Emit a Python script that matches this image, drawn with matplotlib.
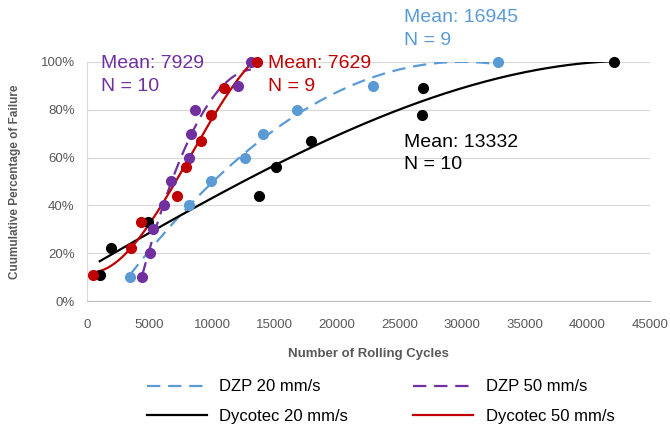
import numpy as np
import matplotlib.pyplot as plt
from matplotlib.ticker import PercentFormatter

plt.rcParams['font.family'] = ['Liberation Sans', 'DejaVu Sans']

# ---- data (cycles, cumulative % of failure) ----
dzp20_x = [3430, 8130, 9890, 12600, 14030, 16750, 22890, 32850]
dzp20_y = [10, 40, 50, 60, 70, 80, 90, 100]

dzp50_x = [4410, 5020, 5260, 6140, 6680, 8130, 8270, 8590, 12040, 13100]
dzp50_y = [10, 20, 30, 40, 50, 60, 70, 80, 90, 100]

dyc20_x = [1010, 1890, 4860, 13770, 15100, 17890, 26790, 26870, 42160]
dyc20_y = [11, 22, 33, 44, 56, 67, 78, 89, 100]

dyc50_x = [480, 3490, 4330, 7150, 7920, 9070, 9940, 10980, 13580]
dyc50_y = [11, 22, 33, 44, 56, 67, 78, 89, 100]

# the Dycotec 20 mm/s trendline doesn't match a plain fit of the points,
# so these are values read off the drawn curve itself
dyc20_trend_x = [1000, 8130, 15050, 19300, 26870, 35250, 38680, 42160]
dyc20_trend_y = [16, 39.6, 55.7, 66.9, 84.2, 96.3, 99, 100]

dash = (0, (6, 3.5))
series = [
    # name, x, y, colour, line style, trend order
    ("DZP 20 mm/s", dzp20_x, dzp20_y, "#5B9BD5", dash, 2),
    ("Dycotec 20 mm/s", dyc20_x, dyc20_y, "black", "-", 3),
    ("DZP 50 mm/s", dzp50_x, dzp50_y, "#7030A0", dash, 2),
    ("Dycotec 50 mm/s", dyc50_x, dyc50_y, "#C00000", "-", 3),
]

fig = plt.figure(figsize=(6.70, 4.24), dpi=100)
ax = fig.add_axes([0.130, 0.290, 0.840, 0.564])

for name, xs, ys, col, ls, order in series:
    xs = np.array(xs, float)
    ys = np.array(ys, float) / 100
    if name == "Dycotec 20 mm/s":
        tx = np.array(dyc20_trend_x, float)
        coef = np.polyfit(tx, np.array(dyc20_trend_y) / 100, order)
    else:
        coef = np.polyfit(xs, ys, order)
    xx = np.linspace(xs.min(), xs.max(), 200)
    ax.plot(xx, np.polyval(coef, xx), color=col, ls=ls, lw=1.6, label=name)
    ax.plot(xs, ys, 'o', color=col, ms=7, clip_on=False, zorder=3)

# mean / N labels
lbl = dict(fontsize=14, va="top", linespacing=1.45)
ax.text(1150, 1.03, "Mean: 7929\nN = 10", color="#7030A0", **lbl)
ax.text(14450, 1.03, "Mean: 7629\nN = 9", color="#C00000", **lbl)
ax.text(25350, 1.22, "Mean: 16945\nN = 9", color="#5B9BD5", **lbl)
ax.text(25350, 0.70, "Mean: 13332\nN = 10", color="black", **lbl)

ax.set_xlim(0, 45000)
ax.set_ylim(0, 1.0)
ax.set_xticks(np.arange(0, 45001, 5000))
ax.set_yticks(np.arange(0, 1.01, 0.2))
ax.yaxis.set_major_formatter(PercentFormatter(1.0, decimals=0))
ax.tick_params(length=0, labelsize=9.5, colors="#595959")
ax.tick_params(axis="x", pad=13)
ax.tick_params(axis="y", pad=9)
ax.grid(axis="y", color="#D9D9D9", lw=0.9)
ax.set_axisbelow(True)
for s in ["top", "right"]:
    ax.spines[s].set_visible(False)
ax.spines["bottom"].set_color("#BFBFBF")
ax.spines["left"].set_color("#D9D9D9")

ax.set_xlabel("Number of Rolling Cycles", fontsize=9.5, fontweight="bold",
              color="#595959", labelpad=12)
ax.set_ylabel("Cuumulative Percentage of Failure", fontsize=8.5,
              fontweight="bold", color="#595959", labelpad=14)

fig.legend(loc="upper left", bbox_to_anchor=(0.219, 0.105), ncol=2,
           frameon=False, fontsize=12, handlelength=3.6, handletextpad=0.75,
           columnspacing=3.9, labelspacing=0.85, borderpad=0,
           borderaxespad=0)

fig.savefig("out.png", dpi=100)
